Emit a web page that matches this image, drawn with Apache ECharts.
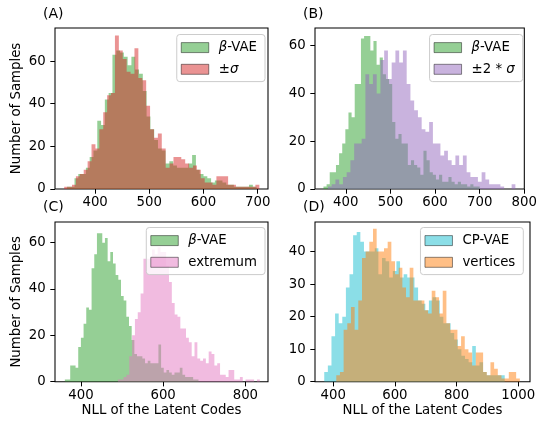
<!DOCTYPE html>
<html><head><meta charset="utf-8">
<script src="https://cdn.jsdelivr.net/npm/echarts@6/dist/echarts.min.js"></script>
<style>html,body{margin:0;padding:0;background:#fff}#c{width:540px;height:423px}</style>
</head><body><div id="c"></div>
<script>
// ---------- DATA ----------
// Panel A
const A_betaStart = 348, A_betaBin = 7;
const A_betaCounts = [1,1,5,7,7,10,15,18,32,30,42,45,63,65,64,62,58,62,56,54,46,34,28,23,19,18,12,13,11,10,10,10,12,16,9,7,6,5,3,4,4,3,2,2,1,1,1,1,2,1];
const A_sigStart = 343, A_sigBin = 7.2;
const A_sigCounts = [1,1,2,6,7,9,13,21,19,28,36,44,45,72,65,61,55,54,66,52,51,39,28,24,26,19,10,12,15,15,14,12,10,11,9,5,3,3,2,6,6,6,2,2,1,1,1,1,1,2];
// Panel B
const B_betaStart = 350, B_betaBin = 7;
const B_betaCounts = [1,2,7,7,10,15,19,25,32,30,44,44,63,64,64,58,62,52,55,48,46,44,28,21,23,19,19,10,12,10,9,6,16,12,7,6,4,6,3,3,5,3,2,3,2,2,1,2,1,1];
const B_sig2Start = 360, B_sig2Bin = 8.4;
const B_sig2Counts = [1,2,4,2,5,7,12,19,19,21,48,44,48,40,54,58,46,53,58,53,58,44,37,33,30,25,24,28,19,19,14,16,12,10,14,10,14,7,5,5,3,7,4,2,2,2,1,0,0,2];
// Panel C
const C_betaStart = 361, C_betaBin = 6.5;
const C_betaCounts = [1,1,7,7,6,15,19,25,32,31,49,55,64,64,60,62,52,56,51,46,44,37,35,28,24,18,12,11,11,10,8,9,8,8,8,16,6,4,5,4,3,4,4,6,3,2,2,2,1,1];
const C_extStart = 490, C_extBin = 6.9;
const C_extCounts = [1,1,2,3,11,20,27,30,38,53,53,53,57,55,58,56,56,50,43,34,29,28,23,23,19,17,11,17,10,9,10,8,13,12,7,8,3,3,2,5,5,1,1,2,0,1,1,1,0,1];
// Panel D
const D_cpStart = 371, D_cpBin = 11.7;
const D_cpCounts = [3,5,14,21,18,20,29,33,45,46,43,40,40,40,41,33,38,37,32,34,37,32,33,32,32,29,25,24,22,25,26,25,20,18,18,15,13,10,8,7,6,11,5,6,3,2,2,2,2,2];
const D_vertStart = 410, D_vertBin = 11.9;
const D_vertCounts = [2,3,16,18,23,16,25,38,40,43,47,40,40,41,43,37,33,35,29,26,35,25,25,25,22,21,28,26,21,28,18,16,16,11,14,10,9,5,9,9,3,2,6,4,2,1,1,3,3,1];

// tick labels
const xTicksA = [400,500,600,700];
const xTicksB = [400,500,600,700,800];
const xTicksC = [400,600,800];
const xTicksD = [400,600,800,1000];
const yTicksABC = [0,20,40,60];
const yTicksD = [0,10,20,30,40];

const panelLabels = ['(A)','(B)','(C)','(D)'];
const seriesNames = ['β-VAE','±σ','β-VAE','±2*σ','β-VAE','extremum','CP-VAE','vertices'];
const yName = 'Number of Samples';
const xName = 'NLL of the Latent Codes';

// ---------- CHART ----------
const FONT = 'DejaVu Sans';
const FS = 13.3;
const C = {green:'#2ca02c', red:'#d62728', purple:'#9467bd', pink:'#e377c2', cyan:'#17becf', orange:'#ff7f0e'};
function rgba(hex,a){const n=parseInt(hex.slice(1),16);return `rgba(${n>>16},${(n>>8)&255},${n&255},${a})`;}

function steps(start, bin, counts){
  const pts = counts.map((c,i)=>[start+i*bin, c]);
  pts.push([start+counts.length*bin, counts[counts.length-1]]);
  return pts;
}

const grids = [
  {left:55, top:28, width:213, height:161},
  {left:315, top:28, width:215, height:161},
  {left:55, top:222, width:213, height:159.7},
  {left:315, top:222, width:215, height:159.7}
];
const xr = [[326,719],[331,800],[337,855],[341,1038]];
const yr = [75.5,67.4,68.9,49.1];
const xt = [xTicksA,xTicksB,xTicksC,xTicksD];
const yt = [yTicksABC,yTicksABC,yTicksABC,yTicksD];

const axisCommon = {
  splitLine:{show:false},
  axisLine:{show:false},
  axisTick:{show:true, inside:false, length:4.7, lineStyle:{color:'#000', width:1.05}},
};
const xAxes = grids.map((g,i)=>({
  type:'value', gridIndex:i, min:xr[i][0], max:xr[i][1], ...axisCommon,
  axisTick:{...axisCommon.axisTick, customValues:xt[i]},
  axisLabel:{customValues:xt[i], fontSize:FS, fontFamily:FONT, color:'#000', margin:7, formatter:v=>String(v)},
  name: (i>=2)? xName : '', nameLocation:'middle', nameGap:22,
  nameTextStyle:{fontSize:FS, fontFamily:FONT, color:'#000', verticalAlign:'top'}
}));
const yAxes = grids.map((g,i)=>({
  type:'value', gridIndex:i, min:0, max:yr[i], ...axisCommon,
  axisTick:{...axisCommon.axisTick, customValues:yt[i]},
  axisLabel:{customValues:yt[i], fontSize:FS, fontFamily:FONT, color:'#000', margin:9.4, formatter:v=>String(v)},
  name: (i%2===0)? yName : '', nameLocation:'middle', nameGap:32,
  nameTextStyle:{fontSize:FS, fontFamily:FONT, color:'#000'}
}));

const specs = [
  [A_betaStart,A_betaBin,A_betaCounts,C.green,0],
  [A_sigStart,A_sigBin,A_sigCounts,C.red,0],
  [B_betaStart,B_betaBin,B_betaCounts,C.green,1],
  [B_sig2Start,B_sig2Bin,B_sig2Counts,C.purple,1],
  [C_betaStart,C_betaBin,C_betaCounts,C.green,2],
  [C_extStart,C_extBin,C_extCounts,C.pink,2],
  [D_cpStart,D_cpBin,D_cpCounts,C.cyan,3],
  [D_vertStart,D_vertBin,D_vertCounts,C.orange,3]
];
const series = specs.map((s,k)=>({
  type:'line', name:seriesNames[k], xAxisIndex:s[4], yAxisIndex:s[4],
  data:steps(s[0],s[1],s[2]), step:'end', symbol:'none', showSymbol:false,
  lineStyle:{width:0.0001, color:'rgba(0,0,0,0)', opacity:0}, color:rgba(s[3],0.5),
  areaStyle:{color:s[3], opacity:0.5, origin:'start'},
  emphasis:{disabled:true},
  silent:true, animation:false, z:2+k%2
}));

const legendPos = [
  {right:275, top:34.5},
  {right:17.3, top:34.5},
  {right:275, top:227.5},
  {right:16.7, top:227.5}
];
function fmt(name){
  if(name==='β-VAE') return '{it|β}-VAE';
  if(name==='±σ') return '±{it|σ}';
  if(name==='±2*σ') return '±2 * {it|σ}';
  return name;
}
const legends = legendPos.map((p,i)=>({
  ...p, orient:'vertical', selectedMode:false,
  itemWidth:27.5, itemHeight:10, itemGap:8.7,
  padding:[6.6,8,5.8,4],
  backgroundColor:'rgba(255,255,255,0.8)', borderColor:'#cccccc', borderWidth:1, borderRadius:3,
  formatter:fmt,
  textStyle:{fontSize:FS, fontFamily:FONT, color:'#000', padding:[0,0,0,5],
    rich:{it:{fontStyle:'italic', fontSize:FS, fontFamily:FONT, color:'#000'}}},
  data:[0,1].map(j=>{const s=specs[i*2+j];return {name:seriesNames[i*2+j], icon:'rect',
    itemStyle:{color:rgba(s[3],0.5), borderColor:'rgba(0,0,0,0.45)', borderWidth:1}};})
}));

const titles = [
  {left:43, top:7}, {left:303, top:7}, {left:43, top:200}, {left:303, top:200}
].map((p,i)=>({...p, text:panelLabels[i], padding:0,
  textStyle:{fontSize:14, fontWeight:'normal', fontFamily:FONT, color:'#000'}}));

const chart = echarts.init(document.getElementById('c'), null, {renderer:'canvas'});
chart.setOption({
  animation:false,
  backgroundColor:'#fff',
  title:titles,
  grid:grids.map(g=>({...g, show:true, borderColor:'#000', borderWidth:1.05, backgroundColor:'transparent', containLabel:false})),
  xAxis:xAxes, yAxis:yAxes, legend:legends, series:series
});
</script></body></html>
